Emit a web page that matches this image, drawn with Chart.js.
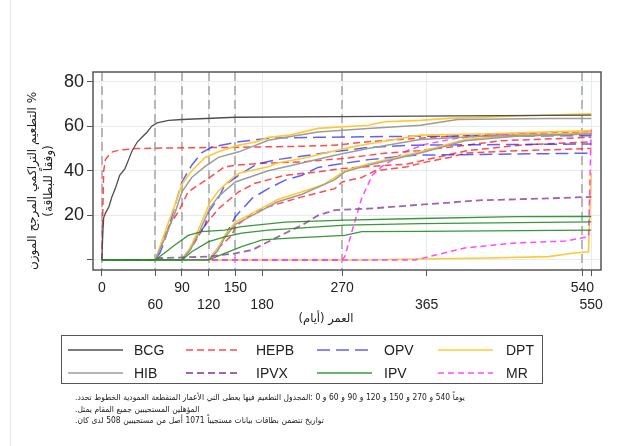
<!DOCTYPE html>
<html>
<head>
<meta charset="utf-8">
<script src="https://cdn.jsdelivr.net/npm/chart.js@4.4.1/dist/chart.umd.min.js"></script>
<style>
    body { margin: 0; background: #fff; }
    #page {
        position: relative; width: 621px; height: 446px; overflow: hidden;
        font-family: "Liberation Sans", "DejaVu Sans", Arial, sans-serif; color: #222;
    }
    #page:before {
        content: ''; position: absolute; left: 10px; top: 0; bottom: 0;
        border-left: 1px solid #dfe8eb;
    }
    #chart { position: absolute; left: 0; top: 0; }
    #ytitle {
        position: absolute; left: -69px; top: 164px; width: 220px; height: 34px;
        transform: rotate(-90deg); text-align: center;
        font-family: "DejaVu Sans", sans-serif; font-size: 12px; line-height: 16px;
    }
    #xtitle {
        position: absolute; left: 226px; top: 311px; width: 200px; text-align: center;
        font-family: "DejaVu Sans", sans-serif; font-size: 11.5px;
    }
    #legend {
        position: absolute; left: 61px; top: 335px; width: 480px; height: 47px;
        border: 1px solid #555;
    }
    #legend svg { position: absolute; left: 0; top: 0; }
    #legend span { position: absolute; font-size: 14px; line-height: 16px; }
    #notes {
        position: absolute; left: 75px; top: 392px;
        font-family: "DejaVu Sans Condensed", "DejaVu Sans", sans-serif; font-size: 8.4px; line-height: 11.7px;
    }
    #notes .row { position: relative; height: 11.7px; white-space: nowrap; }
    #notes .row span { position: absolute; top: 0; unicode-bidi: isolate; }
</style>
</head>
<body>
<div id="page">
    <canvas id="chart" width="621" height="446"></canvas>
    <div id="ytitle" dir="rtl"><div>% التطعيم التراكمي المرجح الموزن</div><div>(وفقاً للبطاقة)</div></div>
    <div id="xtitle" dir="rtl">العمر (أيام)</div>
    <div id="legend"></div>
    <div id="notes"></div>
</div>
<script>
// age in days, cumulative weighted coverage in %
const bcg = [[0, 0], [1, 12], [2, 19], [4, 21], [8, 24], [11, 28], [15, 32], [20, 38], [26, 41], [30, 45],
    [34, 49], [40, 53], [45, 55], [51, 57.4], [56, 60], [62, 61.5], [75, 62.6], [90, 63], [150, 64],
    [270, 64.3], [400, 64.6], [550, 65]];
const hepb0 = [[0, 0], [1, 22], [2, 40], [4, 45], [8, 47], [12, 48.5], [20, 49.3], [40, 50], [90, 50.3],
    [150, 50.5], [225, 51], [262, 51.5], [299, 53], [370, 55], [450, 56.5], [550, 57.4]];
const hepb1 = [[0, 0], [60, 0], [65, 5], [75, 15], [86, 21.6], [97, 30.6], [110, 34], [120, 36.7],
    [138, 41.8], [150, 42.5], [187, 43.5], [225, 44], [273, 45.6], [318, 47.9], [356, 49], [400, 51],
    [450, 53.5], [550, 55]];
const hepb2 = [[0, 0], [90, 0], [100, 5], [116, 15.6], [131, 23], [154, 30.6], [172, 34.4], [206, 38],
    [243, 39.5], [270, 41], [305, 42], [343, 43], [365, 45], [410, 49], [470, 51.5], [550, 53]];
const hepb3 = [[0, 0], [120, 0], [130, 5], [146, 11], [150, 14.9], [169, 21], [187, 23.9], [225, 28.3],
    [262, 32], [270, 35], [292, 37], [307, 40], [343, 41.8], [365, 44], [391, 46], [410, 48], [470, 49],
    [550, 50]];
const opv1 = [[0, 0], [60, 0], [65, 3], [70, 8], [79, 20], [90, 35], [101, 42.5], [112, 48], [124, 50.7],
    [154, 53], [187, 54.6], [243, 55], [358, 55.5], [550, 55.7]];
const opv2 = [[0, 0], [90, 0], [100, 6], [110, 12], [116, 15.6], [120, 21.6], [131, 27.7], [138, 33.6],
    [154, 38], [174, 43], [197, 45], [250, 48], [300, 50.5], [352, 51.5], [550, 52]];
const opv3 = [[0, 0], [120, 0], [128, 4], [135, 8], [150, 19.4], [169, 27.7], [187, 32], [206, 35.8],
    [225, 38], [243, 41.5], [273, 43.4], [300, 45], [352, 47], [550, 47.9]];
const dpt1 = [[0, 0], [60, 0], [71, 12.7], [82, 24.6], [90, 34], [101, 40], [116, 46], [131, 48.5],
    [154, 51.5], [174, 53], [187, 55], [211, 56], [243, 59], [299, 60.4], [318, 62], [358, 62.6],
    [389, 63.5], [465, 64.6], [550, 65.5]];
const dpt2 = [[0, 0], [90, 0], [100, 6], [110, 15], [121, 25.5], [131, 31], [150, 38], [155, 39],
    [187, 41.8], [197, 43.5], [225, 45.5], [262, 49], [279, 50.5], [299, 52], [358, 56], [427, 56.5],
    [550, 58]];
const dpt3 = [[0, 0], [120, 0], [130, 5], [138, 11], [150, 17], [174, 22], [197, 27], [225, 30.6],
    [250, 34], [262, 37], [273, 40], [299, 43], [358, 48.5], [408, 54], [465, 56], [550, 57]];
const dpt4 = [[0, 0], [300, 0], [352, 0.4], [420, 0.8], [502, 1.5], [529, 3], [547, 3.7], [550, 39]];
const hib1 = [[0, 0], [60, 0], [71, 10], [82, 21], [90, 30.6], [101, 37], [116, 42], [131, 46],
    [154, 48.5], [187, 53.7], [243, 57.4], [299, 59], [358, 60.4], [400, 63], [501, 63.4], [550, 63.5]];
const hib2 = [[0, 0], [90, 0], [100, 5], [110, 13], [121, 23], [131, 28.5], [150, 35], [187, 40],
    [225, 43.5], [262, 47], [299, 50], [358, 54], [427, 55.5], [550, 56.5]];
const hib3 = [[0, 0], [120, 0], [130, 4], [138, 10], [150, 16], [174, 21], [197, 26], [225, 29.5],
    [262, 36], [273, 39.5], [299, 42.5], [358, 48], [408, 53.5], [465, 55.5], [550, 56.5]];
const ipvx = [[0, 0], [60, 0], [62, 0.8], [120, 1.5], [150, 3], [169, 4.5], [187, 8.2], [206, 12],
    [225, 15.6], [243, 20], [262, 22.4], [299, 23], [330, 23.9], [358, 24.8], [427, 26.8], [502, 27.6],
    [550, 28.3]];
const ipv1 = [[0, 0], [60, 0], [70, 3], [82, 6.7], [97, 11], [112, 12.7], [138, 13.4], [157, 15],
    [206, 17], [273, 17.9], [358, 18.6], [465, 19.4], [550, 19.5]];
const ipv2 = [[0, 0], [90, 0], [101, 3.7], [120, 8.2], [138, 10.4], [157, 12], [187, 13.4], [273, 15.6],
    [358, 16.3], [550, 17.1]];
const ipv3 = [[0, 0], [120, 0], [138, 3], [157, 6], [169, 7.5], [180, 9], [206, 9.7], [273, 11],
    [292, 12.7], [358, 12.8], [550, 13.4]];
const mr1 = [[0, 0], [270, 0], [273, 1.5], [281, 12.7], [292, 27.7], [304, 38], [315, 42], [343, 49],
    [365, 52], [399, 54.6], [436, 56], [500, 56.8], [550, 57.4]];
const mr2 = [[0, 0], [352, 0], [375, 2.2], [408, 5.4], [464, 7.6], [521, 8.5], [547, 10.4], [550, 59]];

const xTickDays = [0, 60, 90, 120, 150, 180, 270, 365, 540, 550];
const xLowerRow = [60, 120, 180, 365, 550];
const yTicks = [0, 20, 40, 60, 80];
const scheduleDays = [0, 60, 90, 120, 150, 270, 540];

const legendOrder = ['BCG', 'HEPB', 'OPV', 'DPT', 'HIB', 'IPVX', 'IPV', 'MR'];
// note words, in the order they run left to right in the figure
const note1 = ['.', 'تحدد', 'الخطوط', 'العمودية', 'المتقطعة', 'الأعمار', 'التي', 'يعطى', 'فيها', 'التطعيم',
    'المجدول', ':', '0', 'و', '60', 'و', '90', 'و', '120', 'و', '150', 'و', '270', 'و', '540', 'يوماً'];
const note2 = ['.', 'يمثل', 'المقام', 'جميع', 'المستجيبين', 'المؤهلين'];
const note3 = ['.', 'كان', 'لدى', '508', 'مستجيبين', 'من', 'أصل', '1071', 'مستجيباً', 'بيانات', 'بطاقات',
    'تتضمن', 'تواريخ'];

const styles = {
    BCG: { color: '#4f4f4f', dash: [], width: 1.3 },
    HEPB: { color: 'rgba(255,45,45,0.85)', dash: [7, 4], width: 1.5 },
    OPV: { color: 'rgba(35,35,255,0.72)', dash: [13, 6], width: 1.5 },
    DPT: { color: '#ffc935', dash: [], width: 1.6 },
    HIB: { color: '#9c9c9c', dash: [], width: 1.5 },
    IPVX: { color: 'rgba(140,60,155,0.8)', dash: [7, 4], width: 1.8 },
    IPV: { color: 'rgba(35,140,35,0.9)', dash: [], width: 1.3 },
    MR: { color: 'rgba(255,55,255,0.9)', dash: [6, 4], width: 1.5 },
};

const curves = [
    ['BCG', bcg],
    ['IPV', ipv1], ['IPV', ipv2], ['IPV', ipv3],
    ['IPVX', ipvx],
    ['HIB', hib1], ['HIB', hib2], ['HIB', hib3],
    ['DPT', dpt1], ['DPT', dpt2], ['DPT', dpt3],
    ['OPV', opv1], ['OPV', opv2], ['OPV', opv3],
    ['HEPB', hepb0], ['HEPB', hepb1], ['HEPB', hepb2], ['HEPB', hepb3],
    ['MR', mr1], ['MR', mr2],
    ['DPT', dpt4],
];

const refLines = {
    id: 'refLines',
    beforeDatasetsDraw(chart) {
        const { ctx, chartArea: a, scales: { x } } = chart;
        ctx.save();
        ctx.strokeStyle = '#b8b8b8';
        ctx.lineWidth = 2;
        ctx.setLineDash([9, 5]);
        scheduleDays.forEach((d) => {
            const px = Math.round(x.getPixelForValue(d));
            ctx.beginPath();
            ctx.moveTo(px, a.top);
            ctx.lineTo(px, a.bottom);
            ctx.stroke();
        });
        ctx.restore();
    },
    afterDraw(chart) {
        const { ctx, chartArea: a } = chart;
        ctx.save();
        ctx.strokeStyle = '#555';
        ctx.lineWidth = 1.5;
        ctx.strokeRect(a.left, a.top, a.right - a.left, a.bottom - a.top);
        ctx.restore();
    },
};

new Chart(document.getElementById('chart'), {
    type: 'line',
    data: {
        datasets: curves.map(([group, pts]) => ({
            label: group,
            data: pts.map(([d, v]) => ({ x: d, y: v })),
            borderColor: styles[group].color,
            borderDash: styles[group].dash,
            borderWidth: styles[group].width,
            pointRadius: 0,
            tension: 0,
            fill: false,
        })),
    },
    options: {
        responsive: false,
        animation: false,
        events: [],
        layout: { padding: { left: 53, top: 72, right: 20, bottom: 136 } },
        plugins: { legend: { display: false }, tooltip: { enabled: false } },
        scales: {
            x: {
                type: 'linear',
                min: -10,
                max: 561,
                afterBuildTicks: (scale) => { scale.ticks = xTickDays.map((v) => ({ value: v })); },
                afterFit: (scale) => { scale.height = 40; },
                border: { display: false },
                grid: { color: '#e4ecee', tickColor: '#555', tickLength: 6, lineWidth: 1 },
                ticks: {
                    autoSkip: false,
                    maxRotation: 0,
                    padding: 4,
                    color: '#222',
                    font: { family: '"Liberation Sans", Arial, sans-serif', size: 14, lineHeight: 1.22 },
                    callback: (v) => (xLowerRow.includes(v) ? ['', String(v)] : String(v)),
                },
            },
            y: {
                min: -4.5,
                max: 84.3,
                afterBuildTicks: (scale) => { scale.ticks = yTicks.map((v) => ({ value: v })); },
                afterFit: (scale) => { scale.width = 40; },
                border: { display: false },
                grid: { color: '#e4ecee', tickColor: '#555', tickLength: 6, lineWidth: 1 },
                ticks: {
                    padding: 3,
                    color: '#222',
                    font: { family: '"Liberation Sans", Arial, sans-serif', size: 18 },
                    callback: (v) => (v === 0 ? '' : String(v)),
                },
            },
        },
    },
    plugins: [refLines],
});

// legend: 4 columns x 2 rows
const legend = document.getElementById('legend');
const svgNS = 'http://www.w3.org/2000/svg';
const svg = document.createElementNS(svgNS, 'svg');
svg.setAttribute('width', '480');
svg.setAttribute('height', '47');
legend.appendChild(svg);
const colX = [6, 124, 255, 376];
const labelX = [72, 194, 322, 444];
const rowY = [14, 37];
legendOrder.forEach((name, i) => {
    const c = i % 4;
    const r = Math.floor(i / 4);
    const st = styles[name];
    const line = document.createElementNS(svgNS, 'line');
    line.setAttribute('x1', colX[c]);
    line.setAttribute('x2', colX[c] + 55);
    line.setAttribute('y1', rowY[r]);
    line.setAttribute('y2', rowY[r]);
    line.setAttribute('stroke', st.color);
    line.setAttribute('stroke-width', st.width);
    if (st.dash.length) line.setAttribute('stroke-dasharray', st.dash.join(' '));
    svg.appendChild(line);
    const span = document.createElement('span');
    span.textContent = name;
    span.style.left = labelX[c] + 'px';
    span.style.top = (rowY[r] - 8) + 'px';
    legend.appendChild(span);
});

// notes: each word placed one after another from the left
const notesBox = document.getElementById('notes');
[note1, note2, note3].forEach((words) => {
    const row = document.createElement('div');
    row.className = 'row';
    notesBox.appendChild(row);
    let x = 0;
    words.forEach((word, i) => {
        const glued = i === 0 || word === ':' || words[i - 1] === '.';
        if (!glued) x += 2.6;
        const span = document.createElement('span');
        span.textContent = word;
        span.style.left = x + 'px';
        row.appendChild(span);
        x += span.getBoundingClientRect().width;
    });
});
</script>
</body>
</html>
